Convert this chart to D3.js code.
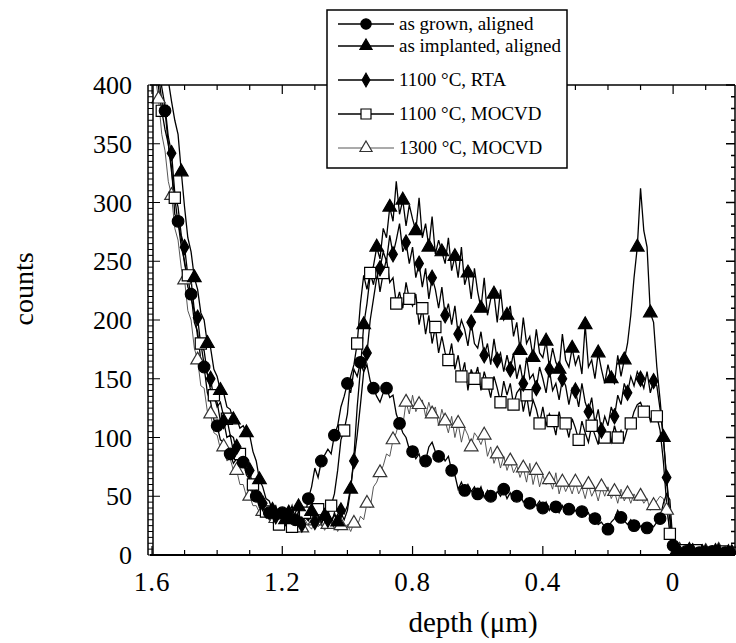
<!DOCTYPE html>
<html>
<head>
<meta charset="utf-8">
<script src="https://cdn.jsdelivr.net/npm/d3@7"></script>
<style>
  body { margin: 0; background: #fff; }
  svg text { font-family: "Liberation Serif", "Times New Roman", serif; fill: #000; }
</style>
</head>
<body>
<svg id="chart" width="736" height="643"></svg>
<script>
// channel grid: depth of first channel and spacing (µm)
const depthStart = 1.6, depthStep = 0.01;

const asGrown = [
  455, 432, 410, 386, 378, 350, 330, 290, 284, 262,
  250, 228, 222, 198, 190, 165, 160, 138, 130, 115,
  110, 98, 96, 84, 86, 78, 82, 76, 79, 68,
  64, 53, 50, 40, 41, 33, 36, 28, 34, 30,
  36, 28, 34, 42, 30, 27, 38, 33, 48, 58,
  74, 66, 80, 85, 90, 86, 102, 110, 126, 135,
  146, 138, 158, 152, 164, 156, 162, 148, 142, 135,
  130, 138, 142, 134, 136, 120, 112, 104, 100, 90,
  88, 82, 86, 76, 80, 92, 96, 88, 84, 86,
  80, 84, 72, 68, 56, 62, 55, 60, 54, 58,
  52, 58, 49, 55, 50, 48, 54, 50, 56, 48,
  53, 46, 50, 52, 45, 48, 44, 47, 42, 46,
  40, 45, 38, 44, 41, 36, 42, 35, 39, 37,
  38, 34, 37, 33, 36, 29, 31, 26, 28, 24,
  22, 28, 31, 38, 32, 29, 26, 30, 25, 28,
  24, 27, 23, 26, 24, 28, 31, 44, 52, 47,
  8, 3, 2, 4, 3, 2, 4, 3, 2, 3,
  2, 4, 3, 2, 3, 4, 2, 3, 2, 3
];

const asImplanted = [
  520, 492, 468, 446, 420, 404, 386, 370, 358, 326,
  296, 270, 258, 236, 226, 206, 200, 180, 176, 158,
  152, 140, 138, 126, 124, 115, 116, 108, 110, 104,
  102, 88, 80, 64, 58, 48, 46, 38, 42, 33,
  35, 30, 38, 29, 36, 41, 28, 34, 30, 37,
  31, 35, 27, 33, 38, 29, 34, 28, 36, 30,
  38, 56, 84, 126, 158, 196, 214, 238, 246, 262,
  252, 278, 270, 296, 284, 318, 290, 302, 280, 298,
  286, 276, 304, 270, 282, 262, 288, 256, 268, 258,
  248, 270, 242, 254, 236, 262, 230, 240, 218, 244,
  224, 210, 236, 204, 218, 222, 198, 226, 200, 204,
  212, 186, 198, 174, 202, 180, 186, 168, 192, 172,
  168, 182, 160, 176, 164, 158, 188, 166, 160, 176,
  162, 170, 154, 196, 160, 166, 150, 172, 158, 146,
  162, 150, 146, 170, 152, 166, 180, 204, 236, 262,
  312, 276, 262, 206, 198, 160, 132, 100, 64, 30,
  6, 3, 4, 2, 3, 4, 2, 3, 4, 2,
  3, 2, 4, 3, 2, 3, 4, 2, 3, 2
];

const rta1100 = [
  470, 446, 424, 398, 382, 356, 342, 308, 296, 272,
  262, 238, 234, 208, 202, 178, 174, 154, 150, 132,
  130, 114, 114, 100, 102, 88, 92, 80, 84, 70,
  72, 56, 56, 42, 44, 34, 36, 30, 33, 27,
  34, 26, 36, 30, 27, 38, 26, 32, 29, 35,
  28, 33, 26, 35, 30, 26, 36, 29, 38, 35,
  42, 58, 80, 102, 128, 156, 172, 200, 218, 236,
  244, 258, 250, 272, 256, 268, 282, 258, 266, 248,
  262, 236, 248, 228, 244, 218, 236, 226, 210, 228,
  204, 214, 196, 212, 188, 200, 192, 178, 198, 180,
  176, 190, 170, 180, 162, 184, 166, 172, 156, 170,
  158, 172, 150, 162, 146, 168, 150, 154, 142, 160,
  150, 138, 158, 140, 146, 132, 150, 144, 128, 142,
  140, 126, 146, 130, 122, 134, 112, 124, 106, 118,
  110, 126, 118, 136, 128, 146, 138, 152, 144, 156,
  150, 142, 156, 138, 148, 144, 124, 100, 66, 34,
  5, 3, 2, 4, 3, 2, 3, 4, 2, 3,
  2, 3, 4, 2, 3, 2, 4, 3, 2, 3
];

const mocvd1100 = [
  450, 428, 398, 378, 362, 350, 326, 304, 282, 270,
  248, 238, 218, 208, 186, 180, 162, 154, 140, 136,
  126, 130, 118, 116, 102, 100, 88, 86, 76, 74,
  64, 60, 48, 46, 38, 37, 30, 29, 24, 26,
  22, 26, 20, 24, 21, 28, 30, 36, 33, 38,
  34, 39, 33, 38, 35, 42, 52, 72, 98, 106,
  120, 152, 162, 180, 214, 238, 226, 240, 230, 246,
  224, 240, 252, 232, 236, 214, 224, 210, 232, 218,
  212, 222, 196, 210, 188, 204, 180, 194, 172, 186,
  172, 166, 180, 158, 170, 152, 164, 140, 158, 150,
  160, 140, 156, 146, 134, 152, 142, 130, 148, 136,
  146, 128, 138, 142, 122, 136, 118, 132, 124, 112,
  126, 110, 120, 114, 102, 122, 108, 112, 100, 116,
  108, 98, 114, 104, 96, 110, 102, 94, 112, 100,
  104, 96, 110, 100, 106, 98, 108, 112, 122, 128,
  130, 122, 126, 114, 122, 118, 106, 80, 44, 18,
  4, 2, 3, 4, 2, 3, 2, 4, 3, 2,
  3, 2, 3, 4, 2, 3, 2, 3, 4, 2
];

const mocvd1300 = [
  440, 408, 388, 358, 344, 318, 306, 278, 268, 244,
  234, 208, 200, 176, 166, 144, 142, 122, 120, 104,
  102, 90, 92, 80, 82, 72, 72, 60, 60, 50,
  50, 42, 42, 36, 37, 31, 33, 29, 31, 27,
  30, 25, 31, 24, 29, 26, 23, 30, 25, 22,
  29, 24, 27, 21, 26, 23, 27, 20, 25, 22,
  26, 20, 27, 24, 33, 30, 44, 40, 58, 62,
  70, 76, 86, 84, 98, 104, 116, 110, 130, 120,
  136, 122, 128, 132, 118, 130, 120, 126, 110, 124,
  114, 104, 118, 100, 112, 96, 108, 102, 92, 104,
  100, 94, 102, 84, 92, 78, 86, 74, 84, 72,
  80, 70, 76, 66, 74, 62, 78, 60, 72, 58,
  68, 60, 64, 56, 70, 52, 62, 54, 60, 52,
  62, 52, 58, 48, 60, 50, 56, 46, 58, 50,
  58, 48, 54, 44, 56, 46, 52, 44, 52, 46,
  50, 44, 48, 38, 42, 46, 50, 48, 38, 22,
  5, 3, 4, 2, 3, 4, 3, 2, 3, 4,
  3, 4, 2, 3, 4, 2, 3, 4, 2, 3
];

const seriesNames = ["as grown, aligned", "as implanted, aligned", "1100 \u00B0C, RTA", "1100 \u00B0C, MOCVD", "1300 \u00B0C, MOCVD"];
const xTickValues = [1.6, 1.2, 0.8, 0.4, 0];
const yTickValues = [0, 50, 100, 150, 200, 250, 300, 350, 400];

const seriesStyle = [
  {shape: d3.symbolCircle, size: 105, fill: "#000", stroke: "#000", line: "#000", lw: 1.3, phase: 0},
  {shape: d3.symbolTriangle, size: 80, fill: "#000", stroke: "#000", line: "#000", lw: 1.3, phase: 1},
  {shape: d3.symbolDiamond, size: 65, fill: "#000", stroke: "#000", line: "#000", lw: 1.3, phase: 2},
  {shape: d3.symbolSquare, size: 125, fill: "#fff", stroke: "#000", line: "#000", lw: 1.3, phase: 3},
  {shape: d3.symbolTriangle, size: 80, fill: "#fff", stroke: "#333", line: "#444", lw: 0.9, phase: 2}
];

const svg = d3.select("#chart");
const x = d3.scaleLinear().domain([1.6, -0.19]).range([152, 735]);
const y = d3.scaleLinear().domain([0, 400]).range([555, 85]);

const series = [asGrown, asImplanted, rta1100, mocvd1100, mocvd1300].map((vals, k) => ({
  name: seriesNames[k],
  style: seriesStyle[k],
  values: vals.map((v, i) => ({depth: depthStart - i * depthStep, val: v}))
}));

svg.append("defs").append("clipPath").attr("id", "plot")
  .append("rect").attr("x", 150).attr("y", 85).attr("width", 586).attr("height", 470);

const line = d3.line().x(d => x(d.depth)).y(d => y(d.val));

const plot = svg.append("g").attr("clip-path", "url(#plot)");

// lines first, then markers; reversed so 'as grown' ends on top
series.slice().reverse().forEach(s => {
  plot.append("path")
    .attr("d", line(s.values))
    .attr("fill", "none")
    .attr("stroke", s.style.line)
    .attr("stroke-width", s.style.lw);
});
series.slice().reverse().forEach(s => {
  plot.selectAll(null)
    .data(s.values.filter((d, i) => i % 4 === s.style.phase))
    .enter().append("path")
    .attr("transform", d => "translate(" + x(d.depth) + "," + y(d.val) + ")")
    .attr("d", d3.symbol().type(s.style.shape).size(s.style.size))
    .attr("fill", s.style.fill)
    .attr("stroke", s.style.stroke)
    .attr("stroke-width", 1.2);
});

// frame
const frame = svg.append("g").attr("stroke", "#000").attr("fill", "none");
frame.append("line").attr("x1", 150).attr("x2", 735).attr("y1", 555).attr("y2", 555).attr("stroke-width", 2);
frame.append("line").attr("x1", 150).attr("x2", 735).attr("y1", 85).attr("y2", 85).attr("stroke-width", 1.5);
frame.append("line").attr("x1", 735).attr("x2", 735).attr("y1", 85).attr("y2", 555).attr("stroke-width", 1.5);
// left axis drawn as a ladder
frame.append("line").attr("x1", 148).attr("x2", 148).attr("y1", 85).attr("y2", 555).attr("stroke-width", 1.5);
frame.append("line").attr("x1", 153).attr("x2", 153).attr("y1", 85).attr("y2", 555).attr("stroke-width", 1.5);

const yMinor = d3.range(0, 401, 5);
frame.selectAll(null).data(yMinor).enter().append("line")
  .attr("x1", 148).attr("x2", d => d % 50 === 0 ? 160 : 153)
  .attr("y1", d => y(d)).attr("y2", d => y(d)).attr("stroke-width", 1);

// right axis ticks
const yRight = d3.range(0, 401, 10);
frame.selectAll(null).data(yRight).enter().append("line")
  .attr("x1", d => d % 50 === 0 ? 726 : 731).attr("x2", 735)
  .attr("y1", d => y(d)).attr("y2", d => y(d)).attr("stroke-width", 1.5);

// top and bottom ticks
const xMinor = d3.range(-1, 17).map(i => i / 10);
frame.selectAll(null).data(xMinor).enter().append("line")
  .attr("x1", d => x(d)).attr("x2", d => x(d))
  .attr("y1", 555).attr("y2", d => Math.round(d * 10) % 4 === 0 ? 546 : 550).attr("stroke-width", 1.2);
frame.selectAll(null).data(xMinor).enter().append("line")
  .attr("x1", d => x(d)).attr("x2", d => x(d))
  .attr("y1", 85).attr("y2", d => Math.round(d * 10) % 4 === 0 ? 94 : 90).attr("stroke-width", 1.2);

// tick labels
svg.append("g").selectAll("text").data(yTickValues).enter().append("text")
  .attr("x", 132).attr("y", d => y(d) + 9)
  .attr("text-anchor", "end").attr("font-size", 26)
  .text(d => d);

svg.append("g").selectAll("text").data(xTickValues).enter().append("text")
  .attr("x", d => x(d)).attr("y", 591)
  .attr("text-anchor", "middle").attr("font-size", 27).attr("letter-spacing", 1)
  .text(d => d === 0 ? "0" : d3.format(".1f")(d));

svg.append("text")
  .attr("transform", "translate(33,289) rotate(-90)")
  .attr("text-anchor", "middle").attr("font-size", 28)
  .text("counts");

svg.append("text")
  .attr("x", 473).attr("y", 632)
  .attr("text-anchor", "middle").attr("font-size", 29)
  .text("depth (\u03BCm)");

// legend
const legend = svg.append("g");
legend.append("rect").attr("x", 327).attr("y", 10).attr("width", 240).attr("height", 158)
  .attr("fill", "#fff").attr("stroke", "#000").attr("stroke-width", 1.5);
const legendY = [24, 46, 80, 114, 148];
series.forEach((s, k) => {
  const g = legend.append("g").attr("transform", "translate(0," + legendY[k] + ")");
  g.append("line").attr("x1", 338).attr("x2", 394).attr("y1", 0).attr("y2", 0)
    .attr("stroke", s.style.line).attr("stroke-width", s.style.lw);
  g.append("path").attr("transform", "translate(366,0)")
    .attr("d", d3.symbol().type(s.style.shape).size(s.style.size * 0.8))
    .attr("fill", s.style.fill).attr("stroke", s.style.stroke).attr("stroke-width", 1.2);
  g.append("text").attr("x", 399).attr("y", 6).attr("font-size", 19).text(s.name);
});
</script>
</body>
</html>
